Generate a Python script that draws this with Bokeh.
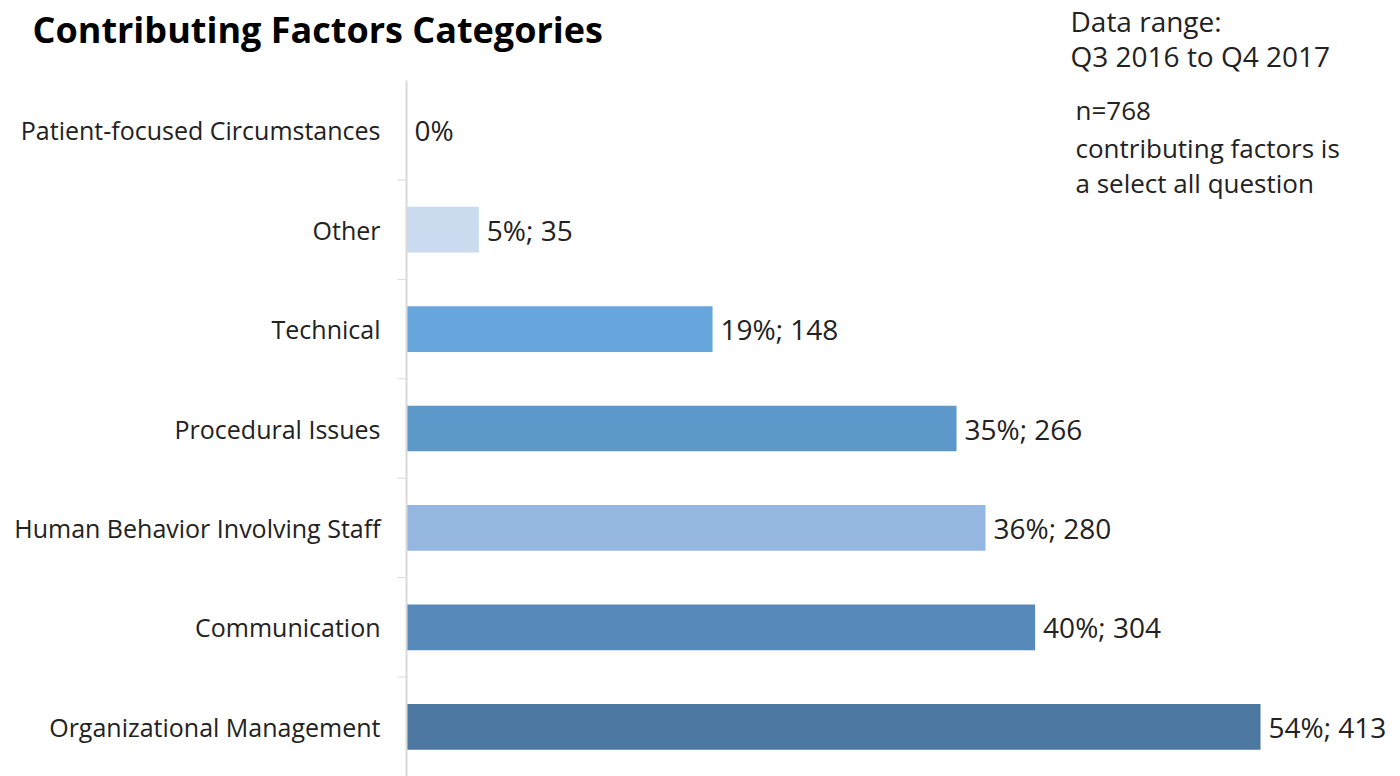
import math
from bokeh.plotting import figure
from bokeh.models import ColumnDataSource, Range1d, LabelSet, Label
from bokeh.core.properties import value
from bokeh.embed import file_html
from bokeh.resources import INLINE

# ---- data ----
categories = ["Organizational Management", "Communication", "Human Behavior Involving Staff",
              "Procedural Issues", "Technical", "Other", "Patient-focused Circumstances"]
counts = [413, 304, 280, 266, 148, 35, 0]
percents = [54, 40, 36, 35, 19, 5, 0]
colors = ["#4b77a0", "#578abb", "#95b7df", "#5c98c9", "#67a6dc", "#cadbef", "#cadbef"]

title_text = "Contributing Factors Categories"
notes_top = ["Data range:", "Q3 2016 to Q4 2017"]
notes_bottom = ["n=768", "contributing factors is", "a select all question"]

labels = [f"{p}%; {c}" if c > 0 else f"{p}%" for p, c in zip(percents, counts)]
n = len(categories)
ypos = [i + 0.5 for i in range(n)]
bounds = list(range(1, n))

FONT = "Open Sans"
W, H = 1400, 776
AX_X, AX_TOP = 406, 80          # px of axis origin / top of category area
px_x = 854 / 413.0              # px per count
px_y = 99.43                    # px per category row

def dx(px):
    return (px - AX_X) / px_x

def dy(py):
    return n + (AX_TOP - py) / px_y

src = ColumnDataSource(dict(y=ypos, count=counts, color=colors, label=labels, cat=categories))

p = figure(width=W, height=H, output_backend="svg", toolbar_location=None,
           x_range=Range1d(dx(0), dx(W)), y_range=Range1d(dy(H), dy(0)),
           x_axis_location=None, y_axis_location=None,
           min_border_left=0, min_border_top=0, min_border_right=0, min_border_bottom=0)
p.outline_line_color = None
p.xgrid.visible = False
p.ygrid.visible = False
p.background_fill_color = "white"
p.border_fill_color = "white"

p.hbar(y="y", right="count", left=0, height=0.46, color="color", line_color=None, source=src)

# category axis line and boundary ticks
p.segment(x0=[0], y0=[0], x1=[0], y1=[n], line_color="#d9d9d9", line_width=2)
p.ray(x=[0] * len(bounds), y=bounds, length=9, length_units="screen", angle=math.pi,
      line_color="#d9d9d9", line_width=1)

# category labels
p.text(x=0, y="y", text="cat", source=src, x_offset=-26, text_align="right",
       text_baseline="middle", text_font=value(FONT), text_font_size="25px",
       text_color="#222222")

p.add_layout(LabelSet(x="count", y="y", text="label", source=src, x_offset=8,
                      text_baseline="middle", text_font=value(FONT), text_font_size="28px",
                      text_color="#222222"))

p.add_layout(Label(x=dx(32), y=dy(29), text=title_text,
                   text_font=FONT, text_font_style="bold", text_font_size="36px",
                   text_baseline="middle", text_color="#000000"))

for t, py in zip(notes_top, [20, 55]):
    p.add_layout(Label(x=dx(1070), y=dy(py), text=t, text_font=FONT, text_font_size="28px",
                       text_baseline="middle", text_color="#222222"))
for t, py in zip(notes_bottom, [109, 147, 182]):
    p.add_layout(Label(x=dx(1075), y=dy(py), text=t, text_font=FONT, text_font_size="26px",
                       text_baseline="middle", text_color="#222222"))

open("out.html", "w").write(file_html(p, INLINE))
